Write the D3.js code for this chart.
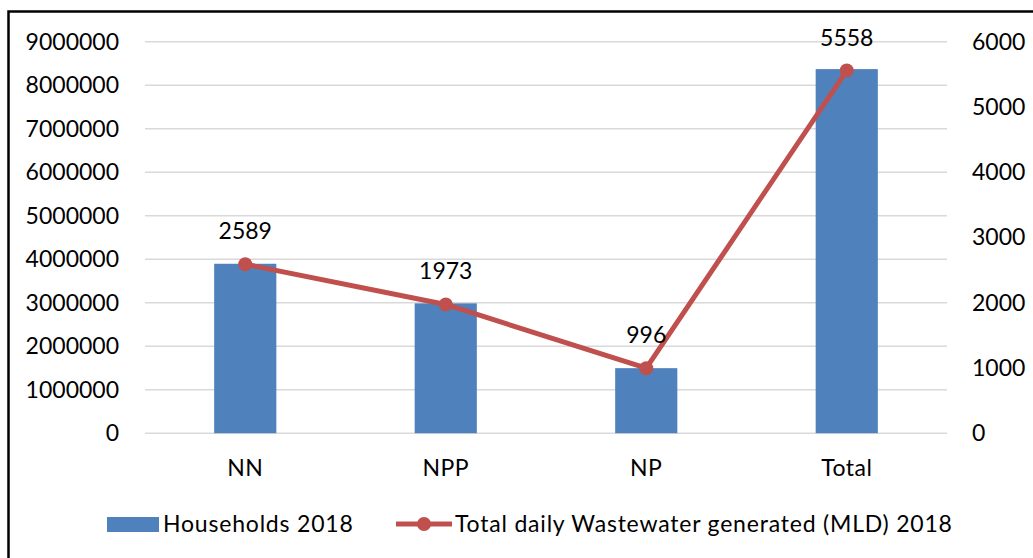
<!DOCTYPE html>
<html>
<head>
<meta charset="utf-8">
<script src="https://cdn.jsdelivr.net/npm/d3@7"></script>
<style>
  body { margin: 0; background: #fff; }
  svg { display: block; }
  text { font-family: Lato, "Noto Sans", sans-serif; fill: #000; }
</style>
</head>
<body>
<svg id="chart" width="1033" height="558"></svg>
<script>
// chart data
var categories = ["NN", "NPP", "NP", "Total"];
var households = [3895000, 2985000, 1495000, 8370000];
var wastewater = [2589, 1973, 996, 5558];
var leftTicks = [0, 1000000, 2000000, 3000000, 4000000, 5000000, 6000000, 7000000, 8000000, 9000000];
var rightTicks = [0, 1000, 2000, 3000, 4000, 5000, 6000];
var seriesNames = ["Households 2018", "Total daily Wastewater generated (MLD) 2018"];

var svg = d3.select("#chart");
var margin = { top: 41.7, left: 145, right: 947, bottom: 433.2 };
var fontSize = 23;

var barColor = "#4F81BD";
var lineColor = "#C0504D";

// outer frame (clipped on right and bottom like the original)
svg.append("rect")
  .attr("x", 8.5).attr("y", 11.5)
  .attr("width", 1100).attr("height", 700)
  .attr("fill", "none")
  .attr("stroke", "#000")
  .attr("stroke-width", 2.5);

var x = d3.scaleBand()
  .domain(categories)
  .range([margin.left, margin.right])
  .paddingInner(0.69)
  .paddingOuter(0.345);

var yLeft = d3.scaleLinear()
  .domain([0, 9000000])
  .range([margin.bottom, margin.top]);

var yRight = d3.scaleLinear()
  .domain([0, 6000])
  .range([margin.bottom, margin.top]);

// gridlines
svg.append("g")
  .attr("class", "grid")
  .selectAll("line")
  .data(leftTicks)
  .enter().append("line")
  .attr("x1", margin.left)
  .attr("x2", margin.right)
  .attr("y1", d => yLeft(d))
  .attr("y2", d => yLeft(d))
  .attr("stroke", "#d9d9d9")
  .attr("stroke-width", 1.5);

// left axis
var leftAxis = svg.append("g")
  .attr("transform", "translate(" + margin.left + ",0)")
  .call(d3.axisLeft(yLeft).tickValues(leftTicks).tickFormat(d3.format("d")).tickSize(0).tickPadding(26));
leftAxis.select(".domain").remove();
leftAxis.selectAll("text")
  .style("font-size", fontSize + "px")
  .style("font-family", "Lato, 'Noto Sans', sans-serif")
  .attr("fill", "#000");

// right axis
var rightAxis = svg.append("g")
  .attr("transform", "translate(" + margin.right + ",0)")
  .call(d3.axisRight(yRight).tickValues(rightTicks).tickFormat(d3.format("d")).tickSize(0).tickPadding(25));
rightAxis.select(".domain").remove();
rightAxis.selectAll("text")
  .style("font-size", fontSize + "px")
  .style("font-family", "Lato, 'Noto Sans', sans-serif")
  .attr("fill", "#000");

// bars
svg.append("g")
  .selectAll("rect")
  .data(categories)
  .enter().append("rect")
  .attr("x", d => x(d))
  .attr("width", x.bandwidth())
  .attr("y", (d, i) => yLeft(households[i]))
  .attr("height", (d, i) => yLeft(0) - yLeft(households[i]))
  .attr("fill", barColor);

// bottom axis labels
var bottomAxis = svg.append("g")
  .attr("transform", "translate(0," + margin.bottom + ")")
  .call(d3.axisBottom(x).tickSize(0).tickPadding(26));
bottomAxis.select(".domain").remove();
bottomAxis.selectAll("text")
  .style("font-size", fontSize + "px")
  .style("font-family", "Lato, 'Noto Sans', sans-serif")
  .style("letter-spacing", "0.5px")
  .attr("fill", "#000");

// line series
var pts = categories.map((c, i) => ({ c: c, v: wastewater[i] }));
var line = d3.line()
  .x(d => x(d.c) + x.bandwidth() / 2)
  .y(d => yRight(d.v));

svg.append("path")
  .datum(pts)
  .attr("d", line)
  .attr("fill", "none")
  .attr("stroke", lineColor)
  .attr("stroke-width", 5)
  .attr("stroke-linejoin", "round");

svg.append("g")
  .selectAll("circle")
  .data(pts)
  .enter().append("circle")
  .attr("cx", d => x(d.c) + x.bandwidth() / 2)
  .attr("cy", d => yRight(d.v))
  .attr("r", 7)
  .attr("fill", lineColor);

// data labels
svg.append("g")
  .selectAll("text")
  .data(pts)
  .enter().append("text")
  .attr("x", d => x(d.c) + x.bandwidth() / 2)
  .attr("y", d => yRight(d.v) - 25)
  .attr("text-anchor", "middle")
  .style("font-size", fontSize + "px")
  .text(d => d.v);

// legend
var legend = svg.append("g");
legend.append("rect")
  .attr("x", 107).attr("y", 517)
  .attr("width", 52).attr("height", 15)
  .attr("fill", barColor);
legend.append("text")
  .attr("x", 163).attr("y", 532)
  .style("font-size", fontSize + "px")
  .style("letter-spacing", "0.8px")
  .text(seriesNames[0]);

legend.append("line")
  .attr("x1", 396).attr("x2", 452)
  .attr("y1", 524).attr("y2", 524)
  .attr("stroke", lineColor)
  .attr("stroke-width", 5);
legend.append("circle")
  .attr("cx", 424).attr("cy", 524)
  .attr("r", 7)
  .attr("fill", lineColor);
legend.append("text")
  .attr("x", 455).attr("y", 532)
  .style("font-size", fontSize + "px")
  .style("letter-spacing", "0.8px")
  .text(seriesNames[1]);
</script>
</body>
</html>
